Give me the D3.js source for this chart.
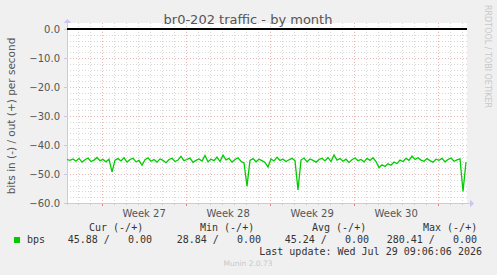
<!DOCTYPE html>
<html>
<head>
<meta charset="utf-8">
<script src="https://cdn.jsdelivr.net/npm/d3@7"></script>
<style>
  html, body { margin: 0; padding: 0; background: #f0f0f0; }
  text { white-space: pre; }
</style>
</head>
<body>
<div id="chart"></div>
<script>
// chart texts
const chartTitle = "br0-202 traffic - by month";
const yLabel = "bits in (-) / out (+) per second";
const watermark = "RRDTOOL / TOBI OETIKER";
const footer = "Munin 2.0.73";
const lastUpdate = "Last update: Wed Jul 29 09:06:06 2026";

// time range and week labels
const rangeStart = "2026-06-26T02:40:00Z";
const rangeEnd = "2026-07-29T10:40:00Z";
const sampleHours = 6;
const weekStarts = ["2026-06-29", "2026-07-06", "2026-07-13", "2026-07-20", "2026-07-27"];
const weekLabels = ["Week 27", "Week 28", "Week 29", "Week 30"];

// y ticks
const yTicks = [0, -10, -20, -30, -40, -50, -60];

// bits in (drawn negative), one value every 6 hours
const bpsIn = [
  -45.0, -45.3, -44.8, -45.6, -44.6, -45.9, -45.1, -44.5, -45.7, -45.2,
  -44.3, -45.4, -45.0, -45.8, -44.9, -49.3, -45.2, -44.7, -45.5, -44.4,
  -45.9, -45.0, -44.6, -45.8, -45.3, -47.0, -45.1, -44.4, -45.6, -45.0,
  -45.9, -44.8, -45.3, -46.1, -45.0, -44.6, -45.7, -45.2, -43.9, -45.4,
  -45.0, -44.5, -46.0, -45.3, -44.8, -45.5, -43.6, -45.8, -44.9, -45.4,
  -44.2, -45.7, -43.5, -45.1, -44.6, -45.9, -45.0, -44.4, -45.6, -46.2,
  -54.2, -45.3, -44.7, -45.8, -44.9, -45.4, -46.0, -47.6, -44.8, -45.5,
  -44.2, -45.3, -44.9, -45.7, -45.1, -44.6, -45.4, -55.5, -45.2, -44.5,
  -45.8, -44.8, -45.3, -45.9, -45.0, -44.6, -45.5, -44.3, -45.7, -43.4,
  -45.2, -44.7, -45.6, -44.9, -46.0, -45.1, -44.5, -45.4, -45.0, -45.8,
  -44.6, -45.3, -44.4, -45.7, -47.8, -46.8, -47.4, -46.5, -47.0, -45.9,
  -46.4, -45.2, -45.7, -44.6, -45.3, -43.8, -45.0, -44.4, -45.2, -45.6,
  -44.7, -45.4, -45.9, -44.9, -45.3, -44.6, -45.8, -45.0, -44.5, -45.6,
  -45.1, -44.8, -56.0, -45.9
];
// bits out, flat zero
const bpsOutValue = 0;

// legend
const legendName = "bps";
const legendHeaders = ["Cur (-/+)", "Min (-/+)", "Avg (-/+)", "Max (-/+)"];
const legendValues = ["45.88 /   0.00", "28.84 /   0.00", "45.24 /   0.00", "280.41 /   0.00"];

const width = 497;
const height = 275;
const plotL = 67, plotR = 467, plotT = 29, plotB = 203;

const svg = d3.select("#chart")
    .append("svg")
    .attr("width", width)
    .attr("height", height)
    .style("display", "block");

svg.append("rect").attr("width", width).attr("height", height).attr("fill", "#f0f0f0");

const t0 = new Date(rangeStart), t1 = new Date(rangeEnd);
const x = d3.scaleUtc().domain([t0, t1]).range([plotL, plotR]);
const y = d3.scaleLinear().domain([-60, 0]).range([plotB, plotT]);

const data = bpsIn.map((v, i) => ({ t: new Date(t0.getTime() + i * sampleHours * 3600e3), v: v }));

// plot background
svg.append("rect")
    .attr("x", plotL).attr("y", plotT - 6)
    .attr("width", plotR - plotL).attr("height", plotB - plotT + 6)
    .attr("fill", "#ffffff");

// minor grid
const days = d3.utcDay.range(t0, t1);
const weeks = weekStarts.map(d => new Date(d + "T00:00:00Z"));
const minorY = d3.range(-58, 0, 2).filter(v => v % 10 !== 0);

const grid = svg.append("g").attr("shape-rendering", "crispEdges");
grid.selectAll(".vmin").data(days).join("line")
    .attr("x1", d => Math.round(x(d)) + 0.5).attr("x2", d => Math.round(x(d)) + 0.5)
    .attr("y1", plotT - 6).attr("y2", plotB)
    .attr("stroke", "#d8d8d8").attr("stroke-dasharray", "1,2");
grid.selectAll(".hmin").data(minorY).join("line")
    .attr("x1", plotL).attr("x2", plotR)
    .attr("y1", d => Math.round(y(d)) + 0.5).attr("y2", d => Math.round(y(d)) + 0.5)
    .attr("stroke", "#d8d8d8").attr("stroke-dasharray", "1,2");

// major grid
grid.selectAll(".vmaj").data(weeks).join("line")
    .attr("x1", d => Math.round(x(d)) + 0.5).attr("x2", d => Math.round(x(d)) + 0.5)
    .attr("y1", plotT - 6).attr("y2", plotB)
    .attr("stroke", "#e8b4b4").attr("stroke-dasharray", "1,2");
grid.selectAll(".hmaj").data(yTicks.filter(v => v !== 0 && v !== -60)).join("line")
    .attr("x1", plotL).attr("x2", plotR + 2)
    .attr("y1", d => Math.round(y(d)) + 0.5).attr("y2", d => Math.round(y(d)) + 0.5)
    .attr("stroke", "#e8b4b4").attr("stroke-dasharray", "1,2");

// y axis labels
const yAxis = svg.append("g")
    .attr("transform", `translate(${plotL},0)`)
    .call(d3.axisLeft(y).tickValues(yTicks).tickSize(3).tickPadding(4).tickFormat(d3.format(".1f")));
yAxis.select(".domain").remove();
yAxis.selectAll("line").attr("stroke", "#c8c8e8").attr("shape-rendering", "crispEdges");
yAxis.selectAll("text")
    .attr("font-family", "DejaVu Sans")
    .attr("font-size", 10)
    .attr("fill", "#555555");

// x axis ticks and week labels
const xTicks = svg.append("g")
    .attr("transform", `translate(0,${plotB})`)
    .attr("shape-rendering", "crispEdges");
xTicks.selectAll(".dt").data(days).join("line")
    .attr("x1", d => Math.round(x(d)) + 0.5).attr("x2", d => Math.round(x(d)) + 0.5)
    .attr("y1", 0).attr("y2", 2).attr("stroke", "#c8c8c8");
xTicks.selectAll(".wt").data(weeks).join("line")
    .attr("x1", d => Math.round(x(d)) + 0.5).attr("x2", d => Math.round(x(d)) + 0.5)
    .attr("y1", 0).attr("y2", 3).attr("stroke", "#e08080");

const mids = weeks.slice(0, -1).map((d, i) => new Date((d.getTime() + weeks[i + 1].getTime()) / 2));
const xAxis = svg.append("g")
    .attr("transform", `translate(0,${plotB})`)
    .call(d3.axisBottom(x).tickValues(mids).tickSize(0).tickPadding(7)
        .tickFormat((d, i) => weekLabels[i]));
xAxis.select(".domain").remove();
xAxis.selectAll("text")
    .attr("font-family", "DejaVu Sans")
    .attr("font-size", 10)
    .attr("fill", "#555555");

// axis lines with arrows
svg.append("line")
    .attr("x1", plotL - 2).attr("x2", plotR + 3)
    .attr("y1", plotB + 0.5).attr("y2", plotB + 0.5)
    .attr("stroke", "#c8c8f0").attr("shape-rendering", "crispEdges");
svg.append("line")
    .attr("x1", plotL + 0.5).attr("x2", plotL + 0.5)
    .attr("y1", plotB + 2).attr("y2", plotT - 6)
    .attr("stroke", "#c8c8f0").attr("shape-rendering", "crispEdges");
svg.append("path")
    .attr("d", `M${plotR + 3},${plotB - 3.5} L${plotR + 7},${plotB + 0.5} L${plotR + 3},${plotB + 4.5} Z`)
    .attr("fill", "#c8c8f0");
svg.append("path")
    .attr("d", `M${plotL - 3.5},${plotT - 6} L${plotL + 0.5},${plotT - 10} L${plotL + 4.5},${plotT - 6} Z`)
    .attr("fill", "#c8c8f0");

// zero line (bits out)
svg.append("line")
    .attr("x1", plotL).attr("x2", plotR)
    .attr("y1", y(bpsOutValue)).attr("y2", y(bpsOutValue))
    .attr("stroke", "#000000").attr("stroke-width", 1.8);

// bits in series
const line = d3.line()
    .x(d => x(d.t))
    .y(d => y(d.v));
svg.append("path")
    .datum(data)
    .attr("fill", "none")
    .attr("stroke", "#00cc00")
    .attr("stroke-width", 1.3)
    .attr("d", line);

// title
svg.append("text")
    .attr("x", 248).attr("y", 24)
    .attr("text-anchor", "middle")
    .attr("font-family", "DejaVu Sans")
    .attr("font-size", 13)
    .attr("fill", "#555555")
    .text(chartTitle);

// y label
svg.append("text")
    .attr("transform", `translate(15,${(plotT + plotB) / 2}) rotate(-90)`)
    .attr("text-anchor", "middle")
    .attr("font-family", "DejaVu Sans")
    .attr("font-size", 10.5)
    .attr("fill", "#555555")
    .text(yLabel);

// watermark
svg.append("text")
    .attr("transform", `translate(485,5) rotate(90)`)
    .attr("font-family", "DejaVu Sans")
    .attr("font-size", 8)
    .attr("fill", "#c8c8c8")
    .text(watermark);

// legend
const mono = "DejaVu Sans Mono";
svg.append("rect")
    .attr("x", 14).attr("y", 237).attr("width", 6).attr("height", 6)
    .attr("fill", "#00cc00");
svg.append("text")
    .attr("x", 27).attr("y", 243)
    .attr("font-family", mono).attr("font-size", 10).attr("fill", "#333333")
    .text(legendName);

const headerX = [89, 200, 312, 423];
svg.selectAll(".lh").data(legendHeaders).join("text")
    .attr("x", (d, i) => headerX[i]).attr("y", 231)
    .attr("font-family", mono).attr("font-size", 10).attr("fill", "#333333")
    .text(d => d);

const valueEnd = [152, 261, 369, 477];
svg.selectAll(".lv").data(legendValues).join("text")
    .attr("x", (d, i) => valueEnd[i]).attr("y", 243)
    .attr("text-anchor", "end")
    .attr("font-family", mono).attr("font-size", 10).attr("fill", "#333333")
    .text(d => d);

svg.append("text")
    .attr("x", 482).attr("y", 255)
    .attr("text-anchor", "end")
    .attr("font-family", mono).attr("font-size", 10).attr("fill", "#333333")
    .text(lastUpdate);

svg.append("text")
    .attr("x", 248).attr("y", 266)
    .attr("text-anchor", "middle")
    .attr("font-family", "DejaVu Sans")
    .attr("font-size", 7.5)
    .attr("fill", "#c8c8c8")
    .text(footer);
</script>
</body>
</html>
